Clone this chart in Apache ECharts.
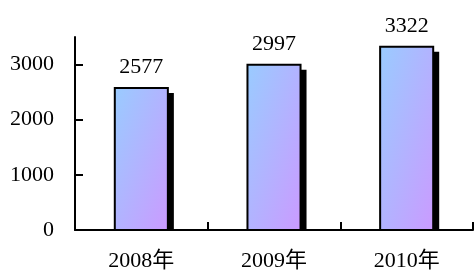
<!DOCTYPE html>
<html>
<head>
<meta charset="utf-8">
<script src="https://cdn.jsdelivr.net/npm/echarts@6/dist/echarts.min.js"></script>
<style>
  html, body { margin: 0; padding: 0; background: #fff; }
  #chart { width: 475px; height: 273px; }
</style>
</head>
<body>
<div id="chart"></div>
<script>
const categories = ['2008年', '2009年', '2010年'];
const values = [2577, 2997, 3322];
const yTicks = [0, 1000, 2000, 3000];

const font = '"Liberation Serif", "DejaVu Serif", "Noto Sans CJK SC", serif';

const chart = echarts.init(document.getElementById('chart'));

// bar with a hard black drop shadow, clipped at the baseline
function renderBar(params, api) {
  const top = api.coord([api.value(0), api.value(1)]);
  const base = api.coord([api.value(0), 0]);
  const w = api.size([1, 0])[0] * 0.4;
  const x = top[0] - w / 2;
  const h = base[1] - top[1];
  // office-style diagonal: colour lines run corner to corner
  const d = h * h + w * w;
  const fill = new echarts.graphic.LinearGradient(0, 0, 2 * h * h / d, 2 * w * w / d, [
    { offset: 0, color: '#99ccff' },
    { offset: 1, color: '#cc99ff' }
  ]);
  return {
    type: 'group',
    children: [
      {
        type: 'rect',
        shape: { x: x + 6, y: top[1] + 5, width: w, height: h - 5 },
        style: { fill: '#000' }
      },
      {
        type: 'rect',
        shape: { x: x, y: top[1], width: w, height: h },
        style: { fill: fill, stroke: '#000', lineWidth: 2 }
      },
      {
        type: 'text',
        style: {
          text: String(api.value(1)),
          x: top[0],
          y: top[1] - 10,
          textAlign: 'center',
          textVerticalAlign: 'bottom',
          font: '22px ' + font,
          fill: '#000'
        }
      }
    ]
  };
}

chart.setOption({
  animation: false,
  grid: { left: 75, right: 2, top: 37, bottom: 43 },
  xAxis: {
    type: 'category',
    data: categories,
    axisLine: { lineStyle: { color: '#000', width: 2 } },
    axisTick: { show: true, inside: true, length: 8, lineStyle: { color: '#000', width: 2 } },
    axisLabel: { color: '#000', fontSize: 22, fontFamily: font, margin: 20 }
  },
  yAxis: {
    type: 'value',
    min: 0,
    max: 3500,
    interval: 500,
    splitLine: { show: false },
    axisLine: { show: true, lineStyle: { color: '#000', width: 2 } },
    axisTick: { show: true, inside: true, length: 8, customValues: yTicks, lineStyle: { color: '#000', width: 2 } },
    axisLabel: {
      color: '#000', fontSize: 22, fontFamily: font, margin: 21,
      customValues: yTicks,
      formatter: (v) => String(v)
    }
  },
  series: [{
    type: 'custom',
    renderItem: renderBar,
    data: values.map((v, i) => [i, v]),
    encode: { x: 0, y: 1 }
  }]
});
</script>
</body>
</html>
